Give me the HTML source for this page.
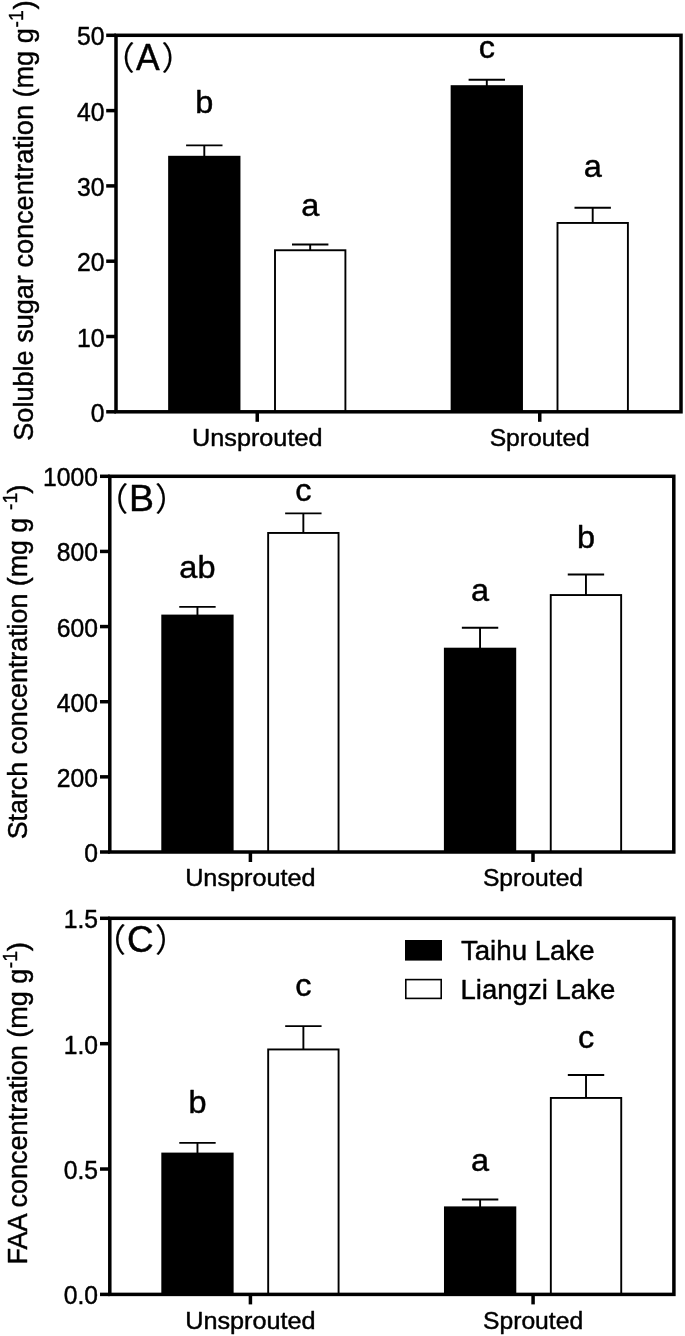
<!DOCTYPE html>
<html lang="en"><head><meta charset="utf-8"><title>Figure</title>
<style>
html,body{margin:0;padding:0;background:#fff}
body{width:685px;height:1336px;overflow:hidden}
svg{display:block}
text{font-family:"Liberation Sans", Arial, Helvetica, sans-serif;fill:#000;stroke:#000;stroke-width:0.45px;stroke-linejoin:round}
.tk{font-size:24.7px}
.tkn{font-size:26.0px}
.let{font-size:30.8px}
.pl{font-size:36.4px}
.cj{font-family:"Liberation Sans", "Noto Sans CJK SC", sans-serif;stroke-width:0.15px}
.yt{font-size:27.5px}
.sup{font-size:19.5px}
.lg{font-size:28.2px}
</style></head><body>
<svg width="685" height="1336" viewBox="0 0 685 1336">
<rect width="685" height="1336" fill="#fff"/>
<g class="panel">
<path d="M186.10 145.40H222.50M204.30 145.40V156.80" stroke="#000" stroke-width="1.9" fill="none"/>
<rect x="168.15" y="155.80" width="72.30" height="256.00" fill="#000"/>
<text class="let" x="195.27" y="112.90" textLength="18.07" lengthAdjust="spacingAndGlyphs">b</text>
<path d="M292.00 244.50H328.40M310.20 244.50V250.30" stroke="#000" stroke-width="1.9" fill="none"/>
<rect x="275.00" y="250.25" width="70.40" height="161.55" fill="#fff" stroke="#000" stroke-width="1.9"/>
<text class="let" x="301.17" y="215.60" textLength="18.07" lengthAdjust="spacingAndGlyphs">a</text>
<path d="M468.60 79.70H505.00M486.80 79.70V86.20" stroke="#000" stroke-width="1.9" fill="none"/>
<rect x="450.65" y="85.20" width="72.30" height="326.60" fill="#000"/>
<text class="let" x="478.68" y="57.50" textLength="16.25" lengthAdjust="spacingAndGlyphs">c</text>
<path d="M574.50 207.70H610.90M592.70 207.70V223.00" stroke="#000" stroke-width="1.9" fill="none"/>
<rect x="557.50" y="222.95" width="70.40" height="188.85" fill="#fff" stroke="#000" stroke-width="1.9"/>
<text class="let" x="583.67" y="177.00" textLength="18.07" lengthAdjust="spacingAndGlyphs">a</text>
<rect x="116" y="35.3" width="565" height="376.5" fill="none" stroke="#000" stroke-width="3.5"/>
<line x1="106.20" y1="411.80" x2="116.00" y2="411.80" stroke="#000" stroke-width="3.5"/>
<text class="tkn" x="90.67" y="421.80" textLength="13.73" lengthAdjust="spacingAndGlyphs">0</text>
<line x1="106.20" y1="336.50" x2="116.00" y2="336.50" stroke="#000" stroke-width="3.5"/>
<text class="tkn" x="76.93" y="346.50" textLength="27.47" lengthAdjust="spacingAndGlyphs">10</text>
<line x1="106.20" y1="261.20" x2="116.00" y2="261.20" stroke="#000" stroke-width="3.5"/>
<text class="tkn" x="76.93" y="271.20" textLength="27.47" lengthAdjust="spacingAndGlyphs">20</text>
<line x1="106.20" y1="185.90" x2="116.00" y2="185.90" stroke="#000" stroke-width="3.5"/>
<text class="tkn" x="76.93" y="195.90" textLength="27.47" lengthAdjust="spacingAndGlyphs">30</text>
<line x1="106.20" y1="110.60" x2="116.00" y2="110.60" stroke="#000" stroke-width="3.5"/>
<text class="tkn" x="76.93" y="120.60" textLength="27.47" lengthAdjust="spacingAndGlyphs">40</text>
<line x1="106.20" y1="35.30" x2="116.00" y2="35.30" stroke="#000" stroke-width="3.5"/>
<text class="tkn" x="76.93" y="45.30" textLength="27.47" lengthAdjust="spacingAndGlyphs">50</text>
<line x1="257.25" y1="411.80" x2="257.25" y2="421.80" stroke="#000" stroke-width="3.5"/>
<text class="tk" x="257.25" y="446.10" text-anchor="middle" textLength="130.5" lengthAdjust="spacingAndGlyphs">Unsprouted</text>
<line x1="539.75" y1="411.80" x2="539.75" y2="421.80" stroke="#000" stroke-width="3.5"/>
<text class="tk" x="539.75" y="446.10" text-anchor="middle">Sprouted</text>
<text class="pl cj" style="font-size:32.5px" x="102.15" y="69.80">（</text>
<text class="pl" x="135.90" y="69.70" textLength="23.7" lengthAdjust="spacingAndGlyphs">A</text>
<text class="pl cj" style="font-size:32.5px" x="161.62" y="69.80">）</text>
<g transform="translate(33.00 439.40) rotate(-90)">
<text class="yt" x="-1.30" y="0" textLength="412.40" lengthAdjust="spacingAndGlyphs">Soluble sugar concentration (mg g</text>
<text class="sup" x="411.90" y="-9.9">-1</text>
<text class="yt" x="429.80" y="0">)</text>
</g>
</g>
<g class="panel">
<path d="M179.25 606.90H215.65M197.45 606.90V615.60" stroke="#000" stroke-width="1.9" fill="none"/>
<rect x="161.30" y="614.60" width="72.30" height="237.40" fill="#000"/>
<text class="let" x="179.38" y="578.20" textLength="36.13" lengthAdjust="spacingAndGlyphs">ab</text>
<path d="M285.15 513.40H321.55M303.35 513.40V533.00" stroke="#000" stroke-width="1.9" fill="none"/>
<rect x="268.15" y="532.95" width="70.40" height="319.05" fill="#fff" stroke="#000" stroke-width="1.9"/>
<text class="let" x="295.23" y="500.80" textLength="16.25" lengthAdjust="spacingAndGlyphs">c</text>
<path d="M461.85 627.80H498.25M480.05 627.80V648.70" stroke="#000" stroke-width="1.9" fill="none"/>
<rect x="443.90" y="647.70" width="72.30" height="204.30" fill="#000"/>
<text class="let" x="471.02" y="600.80" textLength="18.07" lengthAdjust="spacingAndGlyphs">a</text>
<path d="M567.75 574.50H604.15M585.95 574.50V595.10" stroke="#000" stroke-width="1.9" fill="none"/>
<rect x="550.75" y="595.05" width="70.40" height="256.95" fill="#fff" stroke="#000" stroke-width="1.9"/>
<text class="let" x="576.92" y="547.80" textLength="18.07" lengthAdjust="spacingAndGlyphs">b</text>
<rect x="109.8" y="476.3" width="564.0" height="375.7" fill="none" stroke="#000" stroke-width="3.5"/>
<line x1="100.00" y1="852.00" x2="109.80" y2="852.00" stroke="#000" stroke-width="3.5"/>
<text class="tkn" x="84.32" y="862.00" textLength="13.73" lengthAdjust="spacingAndGlyphs">0</text>
<line x1="100.00" y1="776.86" x2="109.80" y2="776.86" stroke="#000" stroke-width="3.5"/>
<text class="tkn" x="56.85" y="786.86" textLength="41.20" lengthAdjust="spacingAndGlyphs">200</text>
<line x1="100.00" y1="701.72" x2="109.80" y2="701.72" stroke="#000" stroke-width="3.5"/>
<text class="tkn" x="56.85" y="711.72" textLength="41.20" lengthAdjust="spacingAndGlyphs">400</text>
<line x1="100.00" y1="626.58" x2="109.80" y2="626.58" stroke="#000" stroke-width="3.5"/>
<text class="tkn" x="56.85" y="636.58" textLength="41.20" lengthAdjust="spacingAndGlyphs">600</text>
<line x1="100.00" y1="551.44" x2="109.80" y2="551.44" stroke="#000" stroke-width="3.5"/>
<text class="tkn" x="56.85" y="561.44" textLength="41.20" lengthAdjust="spacingAndGlyphs">800</text>
<line x1="100.00" y1="476.30" x2="109.80" y2="476.30" stroke="#000" stroke-width="3.5"/>
<text class="tkn" x="43.12" y="486.30" textLength="54.93" lengthAdjust="spacingAndGlyphs">1000</text>
<line x1="250.40" y1="852.00" x2="250.40" y2="862.00" stroke="#000" stroke-width="3.5"/>
<text class="tk" x="250.40" y="886.30" text-anchor="middle" textLength="130.5" lengthAdjust="spacingAndGlyphs">Unsprouted</text>
<line x1="533.00" y1="852.00" x2="533.00" y2="862.00" stroke="#000" stroke-width="3.5"/>
<text class="tk" x="533.00" y="886.30" text-anchor="middle">Sprouted</text>
<text class="pl cj" style="font-size:32.5px" x="95.65" y="510.80">（</text>
<text class="pl" x="129.10" y="510.70" textLength="25.0" lengthAdjust="spacingAndGlyphs">B</text>
<text class="pl cj" style="font-size:32.5px" x="155.12" y="510.80">）</text>
<g transform="translate(26.50 838.00) rotate(-90)">
<text class="yt" x="-1.30" y="0" textLength="321.50" lengthAdjust="spacingAndGlyphs">Starch concentration (mg g</text>
<text class="sup" x="327.90" y="-9.9">-1</text>
<text class="yt" x="344.30" y="0">)</text>
</g>
</g>
<g class="panel">
<path d="M179.28 1142.90H215.67M197.47 1142.90V1153.60" stroke="#000" stroke-width="1.9" fill="none"/>
<rect x="161.32" y="1152.60" width="72.30" height="141.80" fill="#000"/>
<text class="let" x="188.44" y="1112.70" textLength="18.07" lengthAdjust="spacingAndGlyphs">b</text>
<path d="M285.18 1026.10H321.57M303.38 1026.10V1049.50" stroke="#000" stroke-width="1.9" fill="none"/>
<rect x="268.18" y="1049.45" width="70.40" height="244.95" fill="#fff" stroke="#000" stroke-width="1.9"/>
<text class="let" x="295.25" y="995.80" textLength="16.25" lengthAdjust="spacingAndGlyphs">c</text>
<path d="M461.93 1199.50H498.32M480.12 1199.50V1207.40" stroke="#000" stroke-width="1.9" fill="none"/>
<rect x="443.98" y="1206.40" width="72.30" height="88.00" fill="#000"/>
<text class="let" x="471.09" y="1171.00" textLength="18.07" lengthAdjust="spacingAndGlyphs">a</text>
<path d="M567.82 1075.00H604.23M586.02 1075.00V1098.00" stroke="#000" stroke-width="1.9" fill="none"/>
<rect x="550.83" y="1097.95" width="70.40" height="196.45" fill="#fff" stroke="#000" stroke-width="1.9"/>
<text class="let" x="577.90" y="1048.30" textLength="16.25" lengthAdjust="spacingAndGlyphs">c</text>
<rect x="109.8" y="918.3" width="564.1" height="376.10000000000014" fill="none" stroke="#000" stroke-width="3.5"/>
<line x1="100.00" y1="1294.40" x2="109.80" y2="1294.40" stroke="#000" stroke-width="3.5"/>
<text class="tkn" x="63.72" y="1304.40" textLength="34.33" lengthAdjust="spacingAndGlyphs">0.0</text>
<line x1="100.00" y1="1169.03" x2="109.80" y2="1169.03" stroke="#000" stroke-width="3.5"/>
<text class="tkn" x="63.72" y="1179.03" textLength="34.33" lengthAdjust="spacingAndGlyphs">0.5</text>
<line x1="100.00" y1="1043.67" x2="109.80" y2="1043.67" stroke="#000" stroke-width="3.5"/>
<text class="tkn" x="63.72" y="1053.67" textLength="34.33" lengthAdjust="spacingAndGlyphs">1.0</text>
<line x1="100.00" y1="918.30" x2="109.80" y2="918.30" stroke="#000" stroke-width="3.5"/>
<text class="tkn" x="63.72" y="928.30" textLength="34.33" lengthAdjust="spacingAndGlyphs">1.5</text>
<line x1="250.42" y1="1294.40" x2="250.42" y2="1304.40" stroke="#000" stroke-width="3.5"/>
<text class="tk" x="250.42" y="1328.70" text-anchor="middle" textLength="130.5" lengthAdjust="spacingAndGlyphs">Unsprouted</text>
<line x1="533.08" y1="1294.40" x2="533.08" y2="1304.40" stroke="#000" stroke-width="3.5"/>
<text class="tk" x="533.08" y="1328.70" text-anchor="middle">Sprouted</text>
<text class="pl cj" style="font-size:32.5px" x="93.44" y="952.40">（</text>
<text class="pl" x="127.10" y="952.30" textLength="26.6" lengthAdjust="spacingAndGlyphs">C</text>
<text class="pl cj" style="font-size:32.5px" x="155.12" y="952.40">）</text>
<g transform="translate(26.50 1262.40) rotate(-90)">
<text class="yt" x="-2.20" y="0" textLength="295.90" lengthAdjust="spacingAndGlyphs">FAA concentration (mg g</text>
<text class="sup" x="294.20" y="-9.9">-1</text>
<text class="yt" x="311.10" y="0">)</text>
</g>
</g>
<rect x="405" y="940" width="37" height="20.6" fill="#000"/>
<rect x="405.8" y="979.6" width="35.4" height="18.8" fill="#fff" stroke="#000" stroke-width="1.6"/>
<text class="lg" x="460.9" y="959.5" textLength="133.8" lengthAdjust="spacingAndGlyphs">Taihu Lake</text>
<text class="lg" x="460.5" y="998.6" textLength="154.8" lengthAdjust="spacingAndGlyphs">Liangzi Lake</text>
</svg></body></html>
